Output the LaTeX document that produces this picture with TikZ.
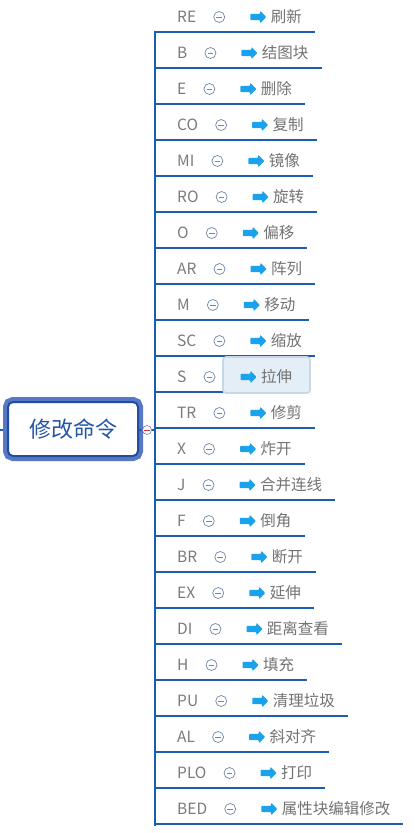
\documentclass[tikz,border=0pt]{standalone}
\usepackage{fontspec}
\setmainfont{Noto Sans CJK SC}
\usetikzlibrary{positioning,shapes.arrows,backgrounds,fit}
\definecolor{branchblue}{HTML}{1B5DB3}
\definecolor{rootblue}{HTML}{1F4E9E}
\definecolor{rimblue}{HTML}{5878C6}
\definecolor{roottext}{HTML}{2456A6}
\definecolor{arrowblue}{HTML}{1AA3EC}
\definecolor{codegray}{HTML}{7A7A7A}
\definecolor{cmdgray}{HTML}{727272}
\definecolor{foldgray}{HTML}{6F86A8}
\definecolor{hifill}{HTML}{E3EEF6}
\definecolor{hidraw}{HTML}{C6D8E8}
\tikzset{
    every node/.style={font=\fontsize{15.5}{18}\selectfont},
    code/.style={anchor=west, inner sep=0pt, text=codegray},
    fold/.style={draw=foldgray, fill=white, circle, minimum size=11pt, inner sep=0pt, line width=0.7pt},
    marker/.style={single arrow, fill=arrowblue, inner xsep=0pt, inner ysep=3pt, minimum height=16pt, single arrow head extend=3pt, rounded corners=0.8pt},
    cmdtext/.style={inner sep=0pt, text=cmdgray},
    branch/.style={draw=branchblue, line width=2.6pt},
    rootbox/.style={draw=rootblue, line width=2pt, fill=white, rounded corners=5pt, minimum width=130pt, minimum height=54pt, inner sep=0pt, text=roottext, font=\fontsize{22}{26}\selectfont, preaction={draw=rimblue, line width=10pt}},
    hilite/.style={draw=hidraw, fill=hifill, line width=1.6pt, rounded corners=3pt, inner sep=0pt}
}

\begin{document}
\begin{tikzpicture}[x=1pt, y=-1pt]
    \useasboundingbox (0,0) rectangle (415,833);

    % root topic
    \coordinate (stub) at (0,430);
    \coordinate (hub) at (155,430);
    \draw[branch, line width=2pt] (stub) -- (73,430);
    \node[rootbox] (root) at (73,429) {修改命令};
    \draw[branch, line width=2pt] (root.east |- hub) -- (hub);
    \node[fold, minimum size=9pt, line width=0.6pt] (rootfold) at (147,430) {};
    \draw[red!60!gray, line width=0.6pt] ([xshift=2pt]rootfold.west) -- ([xshift=-2pt]rootfold.east);

    % commands
    \foreach \code/\cmd [count=\i from 0] in {RE/刷新, B/结图块, E/删除, CO/复制, MI/镜像, RO/旋转, O/偏移, AR/阵列, M/移动, SC/缩放, S/拉伸, TR/修剪, X/炸开, J/合并连线, F/倒角, BR/断开, EX/延伸, DI/距离查看, H/填充, PU/清理垃圾, AL/斜对齐, PLO/打印, BED/属性块编辑修改} {
        \node[code] (code\i) at (177,17+36*\i) {\code};
        \node[fold, right=17pt of code\i] (fold\i) {};
        \draw[foldgray, line width=0.7pt] ([xshift=3pt]fold\i.west) -- ([xshift=-3pt]fold\i.east);
        \node[marker, right=25pt of fold\i] (mark\i) {};
        \node[cmdtext, right=4pt of mark\i] (cmd\i) {\cmd};
        \coordinate (end\i) at ([xshift=13pt]cmd\i.east |- 0,32+36*\i);
    }

    \begin{scope}[on background layer]
        \foreach \i in {0,...,22}
            \draw[branch] (hub) |- (end\i);
        \draw[branch] (hub) -- (155,826);
        \node[hilite, fit={(223,357) (310,393)}] (pick) {};
    \end{scope}
\end{tikzpicture}
\end{document}
